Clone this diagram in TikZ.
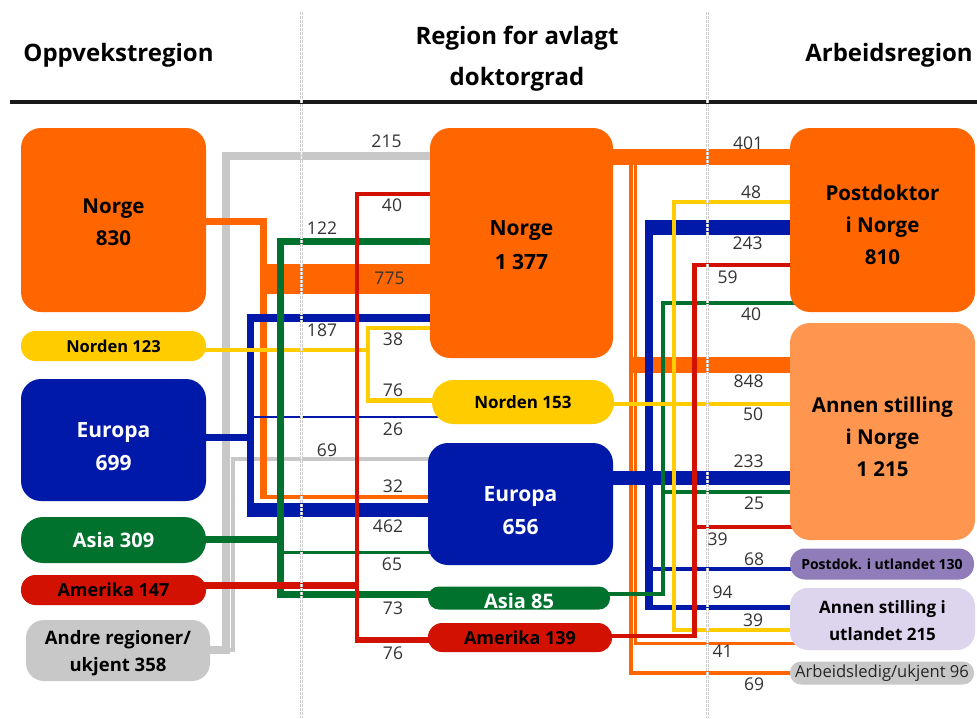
\documentclass[tikz,border=0pt]{standalone}
\usepackage{fontspec}
\setmainfont{Open Sans}
\usetikzlibrary{backgrounds}
\definecolor{cOr}{HTML}{FF6600}
\definecolor{cLo}{HTML}{FF9650}
\definecolor{cYe}{HTML}{FFCC00}
\definecolor{cBl}{HTML}{0019A8}
\definecolor{cGr}{HTML}{00722E}
\definecolor{cRd}{HTML}{D31100}
\definecolor{cGy}{HTML}{C8C8C8}
\definecolor{cPu}{HTML}{8F7CB8}
\definecolor{cLa}{HTML}{DDD4EE}
\definecolor{cNum}{HTML}{333333}
\definecolor{cDot}{HTML}{CDCDCD}
\newcommand\mline[2]{\raisebox{-#1}[\height][\depth]{\begin{tabular}{@{}c@{}}#2\end{tabular}}}
\begin{document}
\begin{tikzpicture}[x=1pt,y=-1pt,
  nd/.style={inner sep=0pt, align=center, text=black},
  big/.style={nd, font=\bfseries\fontsize{20.5}{32}\selectfont, rounded corners=20pt, minimum width=185pt},
  pl/.style={nd, minimum width=185pt},
  num/.style={inner sep=0pt, text=cNum, font=\fontsize{17.5}{20}\selectfont},
  hd/.style={inner sep=0pt, align=center, font=\bfseries\fontsize{24}{41}\selectfont},
  ln/.style={line cap=butt, line join=miter},
  dotg/.style={cDot, line width=3pt, dash pattern=on 2.5pt off 1.5pt},
  dotw/.style={white, line width=1pt, dash pattern=on 2.5pt off 1.5pt}
]
\useasboundingbox (0,0) rectangle (977,718);

% headers
\node[hd] (h1) at (118.5,55) {Oppvekstregion};
\node[hd] (h2) at (517,58.5) {Region for avlagt\\doktorgrad};
\node[hd] (h3) at (889,55) {Arbeidsregion};
\draw[line width=3.5pt, black!90] (10,102) -- (977,102);

% left nodes
\node[big, fill=cOr, minimum height=184pt] (L1) at (113.5,220) {\mline{3.5pt}{Norge\\830}};
\node[pl, fill=cYe, minimum height=30pt, rounded corners=14.5pt, font=\bfseries\fontsize{16.5}{20}\selectfont] (L2) at (113.5,346) {Norden 123};
\node[big, fill=cBl, text=white, minimum height=122pt, font=\bfseries\fontsize{21}{33}\selectfont] (L3) at (113.5,440) {\mline{7.5pt}{Europa\\699}};
\node[pl, fill=cGr, text=white, minimum height=46pt, rounded corners=22pt, font=\bfseries\fontsize{20}{24}\selectfont] (L4) at (113.5,540) {Asia 309};
\node[pl, fill=cRd, minimum height=30pt, rounded corners=14.5pt, font=\bfseries\fontsize{18}{22}\selectfont] (L5) at (113.5,590) {Amerika 147};
\node[big, fill=cGy, minimum width=184pt, minimum height=61pt, rounded corners=18pt, font=\bfseries\fontsize{18.5}{27}\selectfont] (L6) at (118,650.5) {\mline{2pt}{Andre regioner/\\ukjent 358}};

% middle nodes
\node[big, fill=cOr, minimum width=183pt, minimum height=230pt, font=\bfseries\fontsize{21}{34}\selectfont] (M1) at (521.5,243) {\mline{3pt}{Norge\\1 377}};
\node[pl, fill=cYe, minimum width=182pt, minimum height=44pt, rounded corners=21.5pt, font=\bfseries\fontsize{17}{20}\selectfont] (M2) at (523,402) {Norden 153};
\node[big, fill=cBl, text=white, minimum height=122pt, font=\bfseries\fontsize{21}{33}\selectfont] (M3) at (520.5,504) {\mline{7pt}{Europa\\656}};
\node[pl, fill=cGr, text=white, minimum width=182pt, minimum height=23pt, rounded corners=11pt, font=\bfseries\fontsize{20}{22}\selectfont] (M4) at (519,598) {\raisebox{-3pt}[\height][\depth]{Asia 85}};
\node[pl, fill=cRd, minimum width=184pt, minimum height=29pt, rounded corners=14pt, font=\bfseries\fontsize{18}{22}\selectfont] (M5) at (520,637.5) {Amerika 139};

% right nodes
\node[big, fill=cOr, minimum height=184pt] (R1) at (882.5,220) {\mline{6pt}{Postdoktor\\i Norge\\810}};
\node[big, fill=cLo, minimum height=217pt] (R2) at (882.5,431.5) {\mline{7pt}{Annen stilling\\i Norge\\1 215}};
\node[pl, fill=cPu, minimum width=184pt, minimum height=31pt, rounded corners=15pt, font=\bfseries\fontsize{14}{18}\selectfont] (R3) at (882,564) {Postdok. i utlandet 130};
\node[big, fill=cLa, minimum width=185pt, minimum height=62pt, rounded corners=18pt, font=\bfseries\fontsize{17}{27}\selectfont] (R4) at (882.5,619) {\mline{2.5pt}{Annen stilling i\\utlandet 215}};
\node[pl, fill=cGy, minimum width=184pt, minimum height=23pt, rounded corners=11pt, text=black!85, font=\fontsize{16.6}{18}\selectfont] (R5) at (882,673) {Arbeidsledig/ukjent 96};

\begin{scope}[on background layer]
\fill[white] (0,0) rectangle (977,718);
% ---- left connectors
% gray
\draw[ln, cGy, line width=8pt] (L6 |- 0,650) -- (226,650) -- (226,156) -- (M1 |- 0,156);
\draw[ln, cGy, line width=3.5pt] (226,650) -- (233,650) -- (233,459) -- (M3 |- 0,459);
% orange
\draw[ln, cOr, line width=7pt] (L1 |- 0,221) -- (263,221) -- (263,499);
\draw[ln, cOr, line width=30pt] (260,279) -- (M1 |- 0,279);
\draw[ln, cOr, line width=4pt] (263,497) -- (M3 |- 0,497);
% blue
\draw[ln, cBl, line width=7pt] (L3 |- 0,437) -- (250,437);
\draw[ln, cBl, line width=7pt] (250,314) -- (250,517);
\draw[ln, cBl, line width=8pt] (246.5,318) -- (M1 |- 0,318);
\draw[ln, cBl, line width=14pt] (246.5,510) -- (M3 |- 0,510);
\draw[ln, cBl, line width=2.5pt] (250,417) -- (M2 |- 0,417);
% yellow
\draw[ln, cYe, line width=4pt] (L2 |- 0,350) -- (368,350);
\draw[ln, cYe, line width=3.5pt] (M1 |- 0,328) -- (368,328) -- (368,400) -- (M2 |- 0,400);
\draw[ln, cYe, line width=5pt] (366.25,400) -- (M2 |- 0,400);
% green
\draw[ln, cGr, line width=7pt] (L4 |- 0,539) -- (280,539) -- (280,241) -- (M1 |- 0,241);
\draw[ln, cGr, line width=7pt] (280,539) -- (280,594) -- (M4 |- 0,594);
\draw[ln, cGr, line width=3pt] (280,552) -- (M3 |- 0,552);
% red
\draw[ln, cRd, line width=7pt] (L5 |- 0,585) -- (357,585);
\draw[ln, cRd, line width=3.5pt] (M1 |- 0,194) -- (357,194) -- (357,640) -- (M5 |- 0,640);
\draw[ln, cRd, line width=6pt] (355.25,640) -- (M5 |- 0,640);
% ---- right connectors
% orange
\draw[ln, cOr, line width=16pt] (M1 |- 0,157) -- (R1 |- 0,157);
\draw[ln, cOr, line width=3.5pt] (631,157) -- (631,673) -- (R5 |- 0,673);
\draw[ln, cOr, line width=3pt] (635.5,157) -- (635.5,643) -- (R4 |- 0,643);
\draw[ln, cOr, line width=16pt] (629.25,365) -- (R2 |- 0,365);
% blue
\draw[ln, cBl, line width=14pt] (M3 |- 0,478) -- (R2 |- 0,478);
\draw[ln, cBl, line width=8pt] (649,220) -- (649,609.5);
\draw[ln, cBl, line width=15pt] (645,227.5) -- (R1 |- 0,227.5);
\draw[ln, cBl, line width=5pt] (645,607) -- (R4 |- 0,607);
\draw[ln, cBl, line width=4pt] (649,569) -- (R3 |- 0,569);
% green
\draw[ln, cGr, line width=4pt] (M4 |- 0,594) -- (663,594) -- (663,303) -- (R1 |- 0,303);
\draw[ln, cGr, line width=4pt] (663,492) -- (R2 |- 0,492);
% yellow
\draw[ln, cYe, line width=4pt] (M2 |- 0,404) -- (R2 |- 0,404);
\draw[ln, cYe, line width=4pt] (R1 |- 0,202) -- (674,202) -- (674,630) -- (R4 |- 0,630);
% red
\draw[ln, cRd, line width=4.5pt] (M5 |- 0,636) -- (694.5,636) -- (694.5,265) -- (R1 |- 0,265);
\draw[ln, cRd, line width=4pt] (694.5,527) -- (R2 |- 0,527);
\end{scope}

% dotted column separators
\coordinate (d1t) at (301,12); \coordinate (d1b) at (301,718);
\coordinate (d2t) at (707,12); \coordinate (d2b) at (707,718);
\draw[dotg] (d1t) -- (d1b); \draw[dotw] (d1t) -- (d1b);
\draw[dotg] (d2t) -- (d2b); \draw[dotw] (d2t) -- (d2b);

% numbers left
\node[num] (n215) at (386.5,141.5) {215};
\node[num] (n40a) at (392,205.5) {40};
\node[num] (n122) at (322,228.5) {122};
\node[num] (n775) at (389.5,278.5) {775};
\node[num] (n187) at (322,330.5) {187};
\node[num] (n38) at (393,339.5) {38};
\node[num] (n76a) at (393,390.5) {76};
\node[num] (n26) at (393,429) {26};
\node[num] (n69a) at (327,450) {69};
\node[num] (n32) at (393,486.5) {32};
\node[num] (n462) at (388,526.5) {462};
\node[num] (n65) at (392,564) {65};
\node[num] (n73) at (393,608.5) {73};
\node[num] (n76b) at (393,653.5) {76};
% numbers right
\node[num] (n401) at (748,143) {401};
\node[num] (n48) at (751,192) {48};
\node[num] (n243) at (747.5,243.5) {243};
\node[num] (n59) at (727.5,277) {59};
\node[num] (n40b) at (751,314) {40};
\node[num] (n848) at (748.5,381.5) {848};
\node[num] (n50) at (753,414.5) {50};
\node[num] (n233) at (748.5,461.5) {233};
\node[num] (n25) at (754,503.5) {25};
\node[num] (n39a) at (717.5,539.5) {39};
\node[num] (n68) at (754,559.5) {68};
\node[num] (n94) at (722.5,592) {94};
\node[num] (n39b) at (753,620) {39};
\node[num] (n41) at (722.5,651.5) {41};
\node[num] (n69b) at (754,684) {69};
\end{tikzpicture}
\end{document}
